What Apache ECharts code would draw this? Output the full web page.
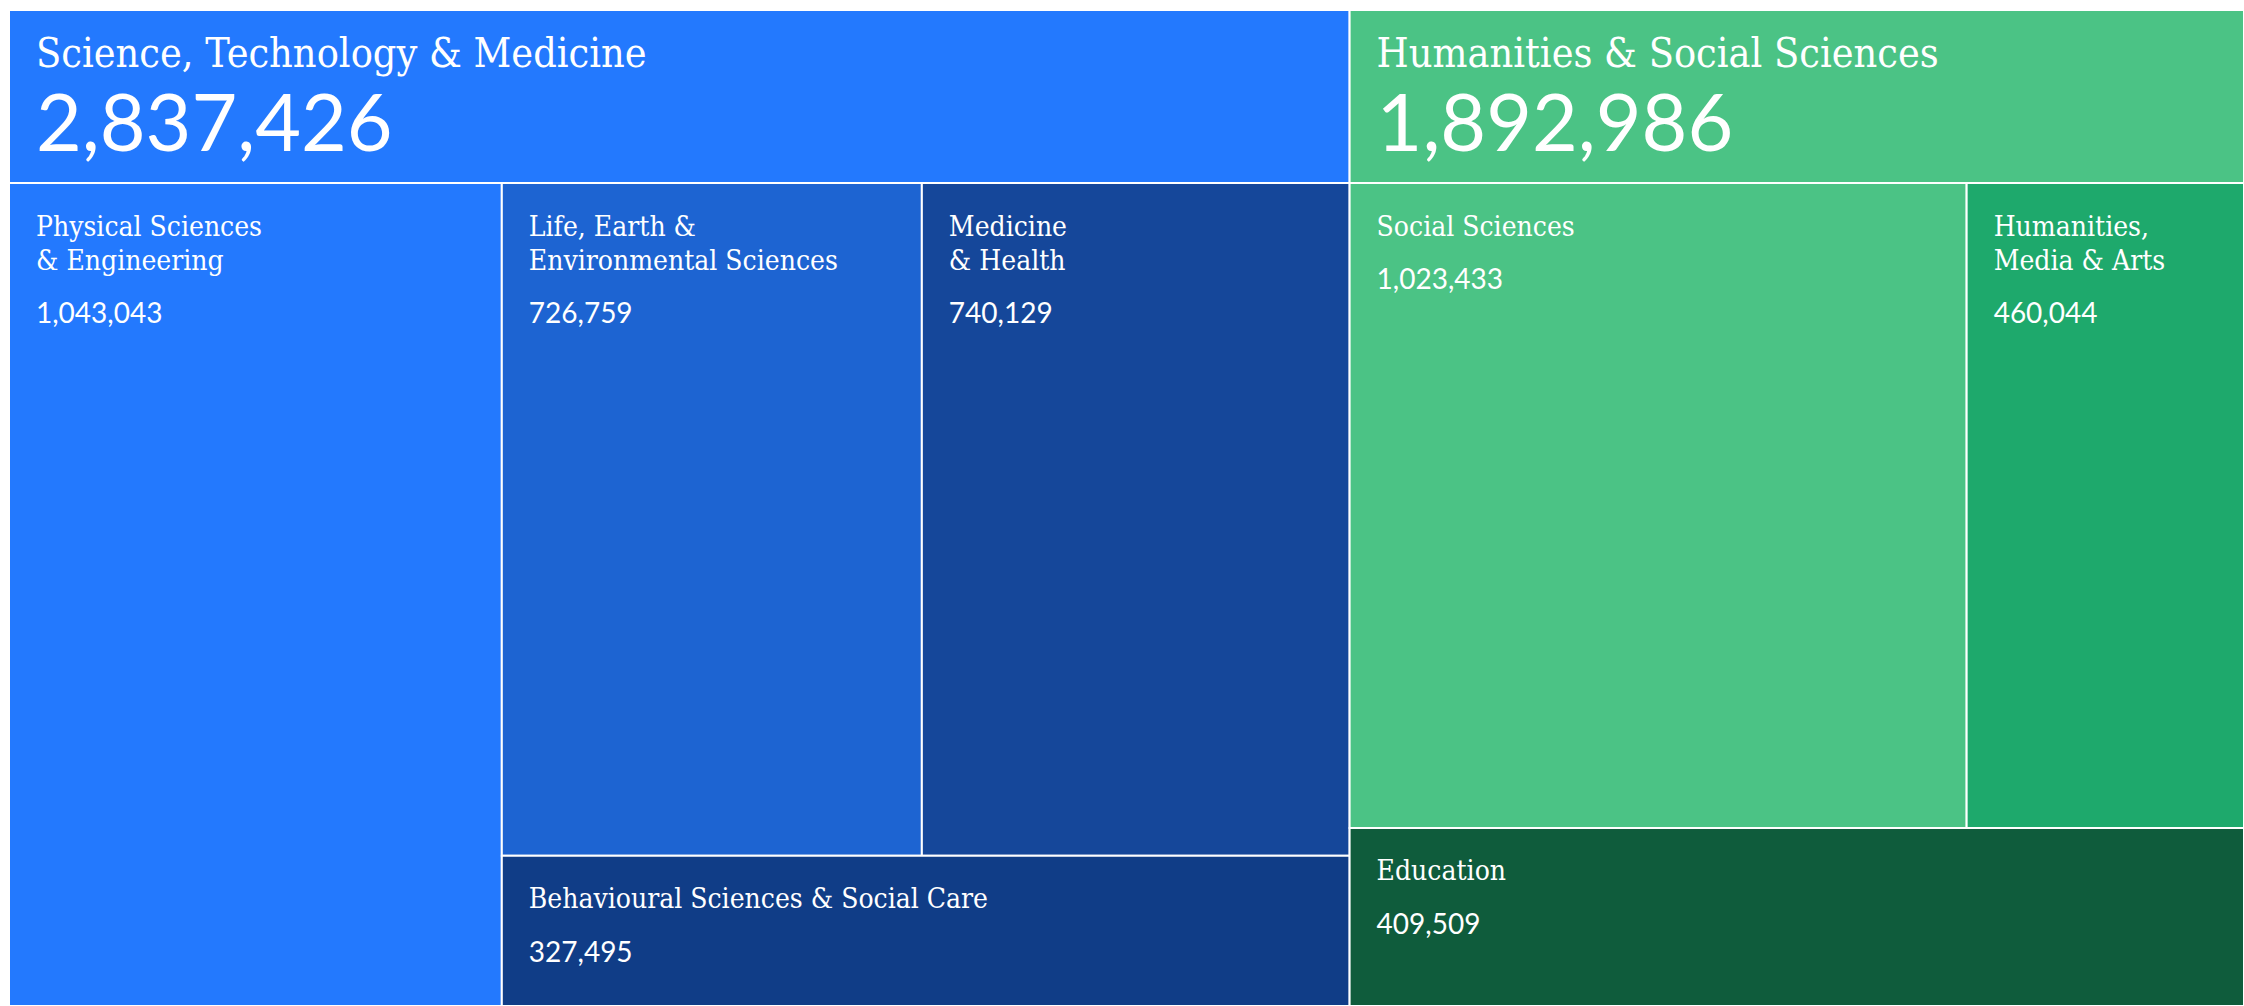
<!DOCTYPE html>
<html>
<head>
<meta charset="utf-8">
<script src="https://cdn.jsdelivr.net/npm/echarts@6/dist/echarts.min.js"></script>
<style>
  html, body { margin: 0; padding: 0; background: #ffffff; }
  #chart { width: 2244px; height: 1006px; }
</style>
</head>
<body>
<div id="chart"></div>
<script>
// ---- data ----
const groupNames = ['Science, Technology & Medicine', 'Humanities & Social Sciences'];
const groupValues = [2837426, 1892986];

const stmNames = ['Physical Sciences\n& Engineering', 'Life, Earth &\nEnvironmental Sciences', 'Medicine\n& Health', 'Behavioural Sciences & Social Care'];
const stmValues = [1043043, 726759, 740129, 327495];

const hssNames = ['Social Sciences', 'Humanities,\nMedia & Arts', 'Education'];
const hssValues = [1023433, 460044, 409509];

// ---- arrangement of the cells (cut direction + child order), no coordinates ----
// 'v' = side by side, 'h' = stacked
const stmArrangement = ['v', 0, ['h', ['v', 1, 2], 3]];
const hssArrangement = ['h', ['v', 0, 1], 2];

// ---- styles ----
const groupColors = ['#2379FE', '#4BC385'];
const stmColors = ['#2379FE', '#1D64D2', '#15479A', '#103D87'];
const hssColors = ['#4BC385', '#1EA96C', '#0F5C3C'];
const SERIF = '"DejaVu Serif Condensed", "DejaVu Serif", serif';
const SANS = 'Lato, "Open Sans", sans-serif';

const fmt = v => v.toLocaleString('en-US');
const total = groupValues.reduce((a, b) => a + b, 0);

function sumOf(node, values) {
  if (typeof node === 'number') return values[node];
  return node.slice(1).reduce((s, c) => s + sumOf(c, values), 0);
}
function place(node, values, x0, x1, y0, y1, out) {
  if (typeof node === 'number') { out.push([x0, x1, y0, y1, node]); return; }
  const dir = node[0];
  const kids = node.slice(1);
  const t = sumOf(node, values);
  let acc = 0;
  kids.forEach(k => {
    const f0 = acc / t;
    acc += sumOf(k, values);
    const f1 = acc / t;
    if (dir === 'v') place(k, values, x0 + (x1 - x0) * f0, x0 + (x1 - x0) * f1, y0, y1, out);
    else place(k, values, x0, x1, y0 + (y1 - y0) * f0, y0 + (y1 - y0) * f1, out);
  });
}

// group ranges along the value axis
const groupData = [];
let cum = 0;
groupValues.forEach((v, i) => { groupData.push([cum, cum + v, 0, 1, i]); cum += v; });

const stmCells = [];
place(stmArrangement, stmValues, groupData[0][0], groupData[0][1], 0, 1, stmCells);
const hssCells = [];
place(hssArrangement, hssValues, groupData[1][0], groupData[1][1], 0, 1, hssCells);

function rectOf(api) {
  const a = api.coord([api.value(0), api.value(2)]);
  const b = api.coord([api.value(1), api.value(3)]);
  return { x: a[0], y: a[1], width: b[0] - a[0], height: b[1] - a[1] };
}

function leafRenderer(names, values, colors) {
  return function (params, api) {
    const r = rectOf(api);
    const i = api.value(4);
    const txt = names[i].split('\n').map(l => '{n|' + l + '}').join('\n') + '\n{v|' + fmt(values[i]) + '}';
    return {
      type: 'group',
      children: [
        { type: 'rect', shape: r, style: { fill: colors[i], stroke: '#ffffff', lineWidth: 2 } },
        {
          type: 'text', x: r.x + 27, y: r.y + 26,
          style: {
            text: txt,
            rich: {
              n: { fontFamily: SERIF, fontSize: 28, lineHeight: 34, fill: '#ffffff', color: '#ffffff' },
              v: { fontFamily: SANS, fontSize: 28, lineHeight: 70, fill: '#ffffff', color: '#ffffff' }
            },
            fill: '#ffffff', verticalAlign: 'top', align: 'left'
          }
        }
      ]
    };
  };
}

function headerRenderer(params, api) {
  const r = rectOf(api);
  const i = api.value(4);
  const txt = '{t|' + groupNames[i] + '}\n{b|' + fmt(groupValues[i]) + '}';
  return {
    type: 'group',
    children: [
      { type: 'rect', shape: r, style: { fill: groupColors[i], stroke: '#ffffff', lineWidth: 2 } },
      {
        type: 'text', x: r.x + 27, y: r.y + 18,
        style: {
          text: txt,
          rich: {
            t: { fontFamily: SERIF, fontSize: 41, lineHeight: 50, fill: '#ffffff', color: '#ffffff' },
            b: { fontFamily: SANS, fontSize: 79, lineHeight: 84, fill: '#ffffff', color: '#ffffff' }
          },
          fill: '#ffffff', verticalAlign: 'top', align: 'left'
        }
      }
    ]
  };
}

const chart = echarts.init(document.getElementById('chart'), null, { renderer: 'svg' });
chart.setOption({
  animation: false,
  backgroundColor: '#ffffff',
  grid: [
    { left: 9, right: 0, top: 10, height: 173 },
    { left: 9, right: 0, top: 183, bottom: 0 }
  ],
  xAxis: [
    { type: 'value', gridIndex: 0, min: 0, max: total, show: false },
    { type: 'value', gridIndex: 1, min: 0, max: total, show: false }
  ],
  yAxis: [
    { type: 'value', gridIndex: 0, min: 0, max: 1, inverse: true, show: false },
    { type: 'value', gridIndex: 1, min: 0, max: 1, inverse: true, show: false }
  ],
  series: [
    { type: 'custom', name: 'Groups', xAxisIndex: 0, yAxisIndex: 0, data: groupData, renderItem: headerRenderer, clip: false },
    { type: 'custom', name: groupNames[0], xAxisIndex: 1, yAxisIndex: 1, data: stmCells, renderItem: leafRenderer(stmNames, stmValues, stmColors), clip: false },
    { type: 'custom', name: groupNames[1], xAxisIndex: 1, yAxisIndex: 1, data: hssCells, renderItem: leafRenderer(hssNames, hssValues, hssColors), clip: false }
  ]
});
</script>
</body>
</html>
